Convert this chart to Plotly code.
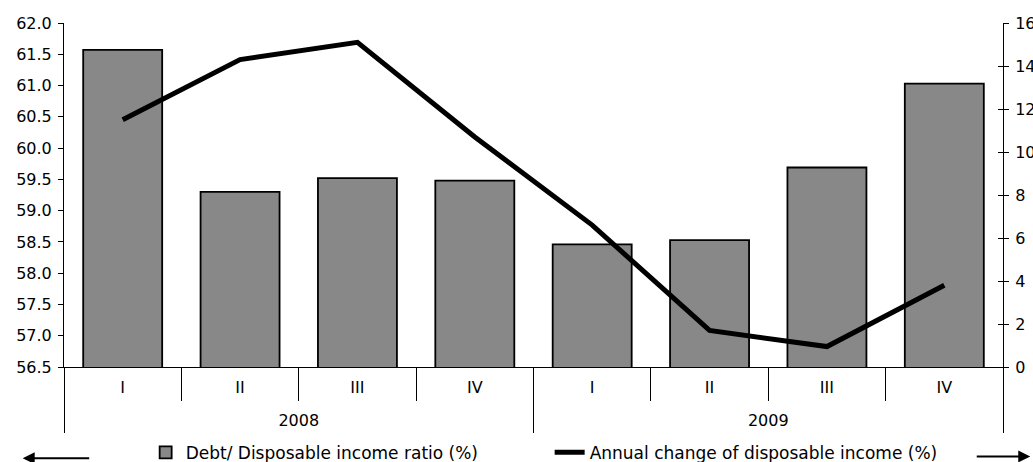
import plotly.graph_objects as go

# Quarterly household data, 2008-2009
years = ["2008", "2009"]
quarters = ["I", "II", "III", "IV", "I", "II", "III", "IV"]
debt_ratio = [61.57, 59.30, 59.52, 59.48, 58.46, 58.53, 59.69, 61.03]
income_change = [11.5, 14.3, 15.1, 10.7, 6.6, 1.7, 0.95, 3.8]

# one slot per quarter; each year spans four slots
pos = list(range(len(quarters)))
year_mid = [1.5, 5.5]
quarter_edges = [p - 0.5 for p in pos] + [pos[-1] + 0.5]
year_edges = [-0.5, 3.5, 7.5]
font_family = "DejaVu Sans"

fig = go.Figure()
fig.add_trace(go.Bar(
    x=pos, y=debt_ratio,
    name="Debt/ Disposable income ratio (%)",
    marker=dict(color="#888888", line=dict(color="black", width=1.8)),
    yaxis="y",
))
fig.add_trace(go.Scatter(
    x=pos, y=income_change,
    name="Annual change of disposable income (%)",
    mode="lines",
    line=dict(color="black", width=5),
    yaxis="y2",
))
# invisible helpers carrying the extra axes (inward right ticks, year row)
fig.add_trace(go.Scatter(
    x=pos, y=income_change, mode="lines", line=dict(width=0),
    showlegend=False, hoverinfo="skip", yaxis="y3", opacity=0,
))
fig.add_trace(go.Scatter(
    x=pos, y=debt_ratio, mode="lines", line=dict(width=0),
    showlegend=False, hoverinfo="skip", xaxis="x2", yaxis="y", opacity=0,
))

fig.update_layout(
    width=1033, height=462,
    margin=dict(l=64, r=30, t=23, b=95),
    plot_bgcolor="white", paper_bgcolor="white",
    font=dict(family=font_family, size=16, color="black"),
    bargap=0.327,
    showlegend=True,
    legend=dict(
        orientation="h", xref="container", yref="container",
        x=0.141, xanchor="left", y=0.02, yanchor="middle",
        entrywidth=359, font=dict(size=17), bgcolor="rgba(0,0,0,0)",
    ),
    xaxis=dict(
        range=[-0.5, 7.5], automargin=False,
        tickmode="array", tickvals=pos, ticktext=quarters, ticks="",
        ticklabelstandoff=6,
        minor=dict(tickmode="array", tickvals=quarter_edges, ticks="outside",
                   ticklen=33, tickcolor="black", tickwidth=1, showgrid=False),
        showline=True, linecolor="black", linewidth=1,
        showgrid=False, zeroline=False, tickfont=dict(size=16),
    ),
    xaxis2=dict(
        range=[-0.5, 7.5], overlaying="x", anchor="y", side="bottom",
        automargin=False,
        tickmode="array", tickvals=year_mid, ticktext=years, ticks="",
        ticklabelstandoff=42,
        minor=dict(tickmode="array", tickvals=year_edges, ticks="outside",
                   ticklen=65, tickcolor="black", tickwidth=1, showgrid=False),
        showline=False, showgrid=False, zeroline=False, tickfont=dict(size=16),
    ),
    yaxis=dict(
        range=[56.5, 62.0], dtick=0.5, tickformat=".1f", automargin=False,
        showline=True, linecolor="black", linewidth=1,
        ticks="outside", ticklen=5, tickcolor="black", ticklabelstandoff=3,
        showgrid=False, zeroline=False, tickfont=dict(size=16),
    ),
    yaxis2=dict(
        range=[0, 16], dtick=2, overlaying="y", side="right", automargin=False,
        showline=True, linecolor="black", linewidth=1,
        ticks="outside", ticklen=5, tickcolor="black", ticklabelstandoff=3,
        showgrid=False, zeroline=False, tickfont=dict(size=16),
    ),
    yaxis3=dict(
        range=[0, 16], dtick=2, overlaying="y", side="right", automargin=False,
        showline=False, ticks="inside", ticklen=5, tickcolor="black",
        showticklabels=False, showgrid=False, zeroline=False,
    ),
    annotations=[
        dict(xref="paper", yref="paper", x=-0.044, y=-0.265,
             ax=68, ay=0, axref="pixel", ayref="pixel",
             text="", showarrow=True, arrowhead=2, arrowsize=1.2,
             arrowwidth=2, arrowcolor="black"),
        dict(xref="paper", yref="paper", x=1.029, y=-0.26,
             ax=-55, ay=0, axref="pixel", ayref="pixel",
             text="", showarrow=True, arrowhead=2, arrowsize=1.2,
             arrowwidth=2, arrowcolor="black"),
    ],
)

fig.write_html("out.html")
